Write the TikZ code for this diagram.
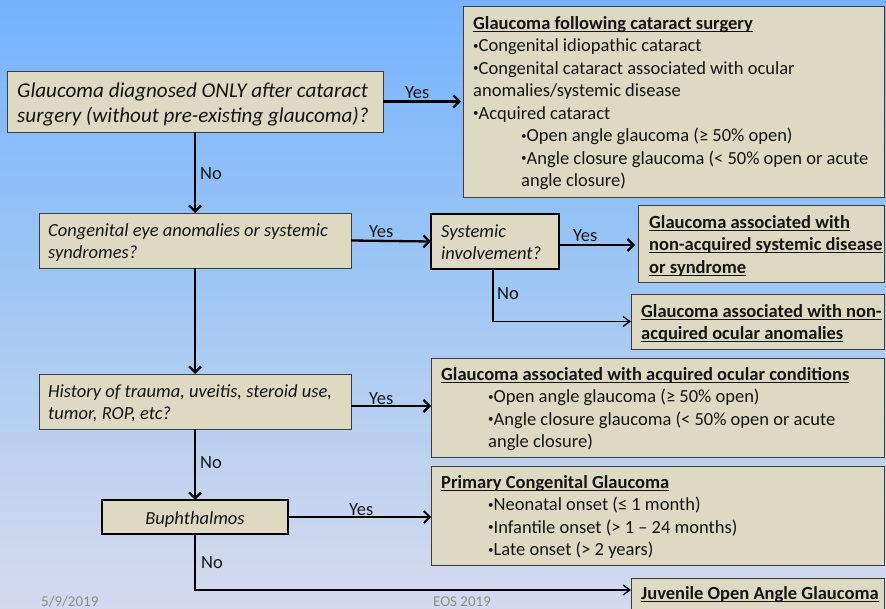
\documentclass[tikz,border=0pt]{standalone}
\usepackage{fontspec}
\setmainfont{Carlito}
\usetikzlibrary{arrows.meta}
\definecolor{boxfill}{RGB}{221,217,195}
\definecolor{boxline}{RGB}{60,60,60}
\definecolor{ink}{RGB}{20,20,20}
\definecolor{bgtop}{RGB}{100,164,255}
\definecolor{bgupper}{RGB}{118,178,255}
\definecolor{bgmid}{RGB}{152,196,245}
\definecolor{bglow}{RGB}{205,215,238}
\definecolor{bgbot}{RGB}{242,228,246}
\definecolor{footgray}{RGB}{140,140,140}
\pgfdeclareverticalshading{slidebg}{100bp}{color(0bp)=(bgbot); color(30bp)=(bglow); color(55bp)=(bgmid); color(75bp)=(bgupper); color(100bp)=(bgtop)}
% underline drawn just under the baseline, as in slide text
\newcommand\ulin[1]{\setbox0\hbox{#1}\rlap{\rule[-2.8pt]{\wd0}{1.2pt}}\box0}
% small slide bullet
\newcommand\bul{\raisebox{2.4pt}{\fontsize{11}{11}\selectfont•}}
\begin{document}
\begin{tikzpicture}[x=1pt,y=-1pt,
  box/.style={draw=boxline, fill=boxfill, line width=0.9pt, inner sep=0pt, outer sep=0pt, anchor=north west},
  keybox/.style={box, draw=black, line width=1.7pt},
  txt/.style={inner sep=0pt, anchor=north west, align=left, text=ink, font=\fontsize{18.5}{22.5}\selectfont},
  qtxt/.style={txt, font=\fontsize{18.5}{22.5}\selectfont\itshape},
  btxt/.style={txt, font=\fontsize{18.5}{22.5}\selectfont\bfseries},
  lbl/.style={inner sep=0pt, anchor=base west, text=ink, font=\fontsize{18.5}{22}\selectfont},
  foot/.style={inner sep=0pt, anchor=base west, text=footgray, font=\fontsize{15}{18}\selectfont},
  flow/.style={draw=black, line width=2.3pt, -{Straight Barb[length=6pt,width=12pt]}},
  thin/.style={draw=black, line width=1.3pt, -{Straight Barb[length=7pt,width=10pt]}},
]
\useasboundingbox (0,0) rectangle (886,609);
\clip (0,0) rectangle (886,609);
\fill[shading=slidebg] (0,0) rectangle (886,609);

% boxes
\node[box, minimum width=376, minimum height=61] (b1) at (7,71) {};
\node[box, minimum width=421, minimum height=191] (b2) at (463,6) {};
\node[box, minimum width=312, minimum height=55] (b3) at (39,213) {};
\node[keybox, minimum width=128, minimum height=55] (b4) at (431,214) {};
\node[box, minimum width=246, minimum height=77] (b5) at (638,205) {};
\node[box, minimum width=253, minimum height=55] (b6) at (631,294) {};
\node[box, minimum width=312, minimum height=55] (b7) at (39,374) {};
\node[box, minimum width=453, minimum height=99] (b8) at (431,358) {};
\node[keybox, minimum width=186, minimum height=34] (b9) at (102,500) {};
\node[box, minimum width=453, minimum height=99] (b10) at (431,466) {};
\node[box, minimum width=253, minimum height=45] (b11) at (631,578) {};

% texts
\node[qtxt, font=\fontsize{21.1}{25}\selectfont\itshape] (t1) at (17,79.5)
  {\strut Glaucoma diagnosed ONLY after cataract\\surgery (without pre-existing glaucoma)?};
\node[txt] (t2) at (473,13.25)
  {\strut\ulin{\bfseries Glaucoma following cataract surgery}\\
   \bul Congenital idiopathic cataract\\
   \bul Congenital cataract associated with ocular\\
   anomalies/systemic disease\\
   \bul Acquired cataract\\
   \hspace*{48pt}\bul Open angle glaucoma (≥ 50\% open)\\
   \hspace*{48pt}\bul Angle closure glaucoma (< 50\% open or acute\\
   \hspace*{48pt}angle closure)};
\node[qtxt] (t3) at (48,220.25) {\strut Congenital eye anomalies or systemic\\syndromes?};
\node[qtxt] (t4) at (441,221.25) {\strut Systemic\\involvement?};
\node[btxt] (t5) at (649,212.25)
  {\strut\ulin{Glaucoma associated with}\\\ulin{non-acquired systemic disease}\\\ulin{or syndrome}};
\node[btxt] (t6) at (641,301.25)
  {\strut\ulin{Glaucoma associated with non-}\\\ulin{acquired ocular anomalies}};
\node[qtxt] (t7) at (48,381.25) {\strut History of trauma, uveitis, steroid use,\\tumor, ROP, etc?};
\node[txt] (t8) at (441,364.25)
  {\strut\ulin{\bfseries Glaucoma associated with acquired ocular conditions}\\
   \hspace*{47pt}\bul Open angle glaucoma (≥ 50\% open)\\
   \hspace*{47pt}\bul Angle closure glaucoma (< 50\% open or acute\\
   \hspace*{47pt}angle closure)};
\node[qtxt, anchor=base] (t9) at (195,524) {Buphthalmos};
\node[txt] (t10) at (441,472.25)
  {\strut\ulin{\bfseries Primary Congenital Glaucoma}\\
   \hspace*{47pt}\bul Neonatal onset (≤ 1 month)\\
   \hspace*{47pt}\bul Infantile onset (> 1 – 24 months)\\
   \hspace*{47pt}\bul Late onset (> 2 years)};
\node[btxt] (t11) at (641,583.25)
  {\strut\ulin{Juvenile Open Angle Glaucoma}};

% connectors
\draw[flow, shorten >=2pt] (b1.east) -- (b1.east -| b2.west);
\draw[flow] (b1.south) -- (b3.north);
\draw[flow] (b3.east) -- (b4.west);
\draw[flow, shorten >=3pt] ([yshift=-3.5pt]b4.east) -- ([yshift=-3.5pt]b4.east -| b5.west);
\draw[thin] ([xshift=62pt]b4.south west) |- (b6.west);
\draw[flow] (b3.south) -- (b7.north);
\draw[flow] ([yshift=-4.5pt]b7.east) -- ([yshift=-4.5pt]b7.east -| b8.west);
\draw[flow] (b7.south) -- (b9.north);
\draw[flow, line width=1.8pt] (b9.east) -- (b9.east -| b10.west);
\draw[thin] (b9.south) |- ([yshift=-12pt]b11.north west);

% branch labels
\node[lbl] (y1) at (405,99) {Yes};
\node[lbl] (n1) at (200,180) {No};
\node[lbl] (y2) at (369,238) {Yes};
\node[lbl] (y3) at (573,242) {Yes};
\node[lbl] (n2) at (497,300) {No};
\node[lbl] (y4) at (369,404) {Yes};
\node[lbl] (n3) at (200,468) {No};
\node[lbl] (y5) at (349,515) {Yes};
\node[lbl] (n4) at (201,568) {No};

% footer
\node[foot] (date) at (41,606) {5/9/2019};
\node[foot] (event) at (433,606) {EOS 2019};
\end{tikzpicture}
\end{document}
